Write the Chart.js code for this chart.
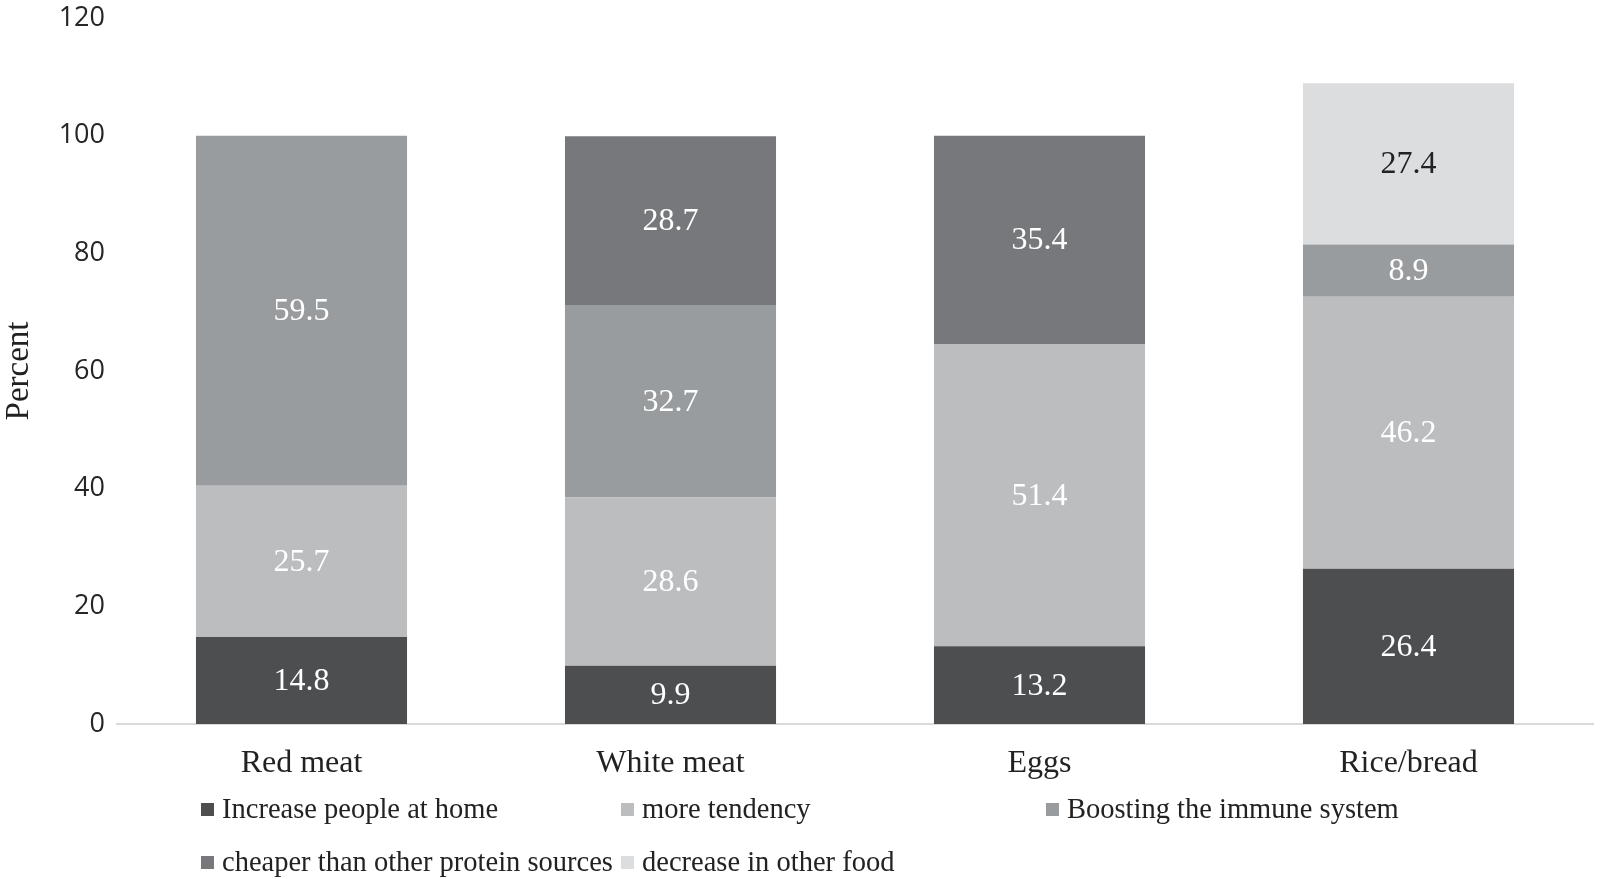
<!DOCTYPE html>
<html>
<head>
<meta charset="utf-8">
<script src="https://cdn.jsdelivr.net/npm/chart.js@4/dist/chart.umd.min.js"></script>
<style>
  html, body { margin: 0; padding: 0; background: #fff; }
  #wrap { position: relative; width: 1600px; height: 879px; overflow: hidden; }
  #c { position: absolute; left: 0; top: 0; }
  .lg { position: absolute; display: flex; align-items: center; font-family: "Liberation Serif", "Times New Roman", serif; font-size: 28.5px; color: #222; white-space: nowrap; line-height: 1; }
  .lg span.sw { display: inline-block; width: 13px; height: 13px; margin-right: 8px; }
</style>
</head>
<body>
<div id="wrap">
  <canvas id="c" width="1600" height="879"></canvas>
  <div id="legend"></div>
</div>
<script>
const categories = ["Red meat", "White meat", "Eggs", "Rice/bread"];
const seriesNames = ["Increase people at home", "more tendency", "Boosting the immune system", "cheaper than other protein sources", "decrease in other food"];
const increasePeople = [14.8, 9.9, 13.2, 26.4];
const moreTendency = [25.7, 28.6, 51.4, 46.2];
const boostingImmune = [59.5, 32.7, null, 8.9];
const cheaperProtein = [null, 28.7, 35.4, null];
const decreaseOther = [null, null, null, 27.4];
const yTicks = [0, 20, 40, 60, 80, 100, 120];

const colors = ["#4d4e50", "#bcbdbf", "#999c9f", "#77787b", "#dcdddf"];
const labelColors = ["#ffffff", "#ffffff", "#ffffff", "#ffffff", "#222222"];
const values = [increasePeople, moreTendency, boostingImmune, cheaperProtein, decreaseOther];

const datasets = seriesNames.map((n, i) => ({
  label: n,
  data: values[i],
  backgroundColor: colors[i],
  borderWidth: 0,
  barPercentage: 0.572,
  categoryPercentage: 1.0
}));

const barLabels = {
  id: 'barLabels',
  afterDatasetsDraw(chart) {
    const ctx = chart.ctx;
    ctx.save();
    ctx.font = '32px "Liberation Serif", "Times New Roman", serif';
    ctx.textAlign = 'center';
    ctx.textBaseline = 'middle';
    chart.data.datasets.forEach((ds, di) => {
      const meta = chart.getDatasetMeta(di);
      meta.data.forEach((el, i) => {
        const v = ds.data[i];
        if (v === null || v === undefined) return;
        ctx.fillStyle = labelColors[di];
        ctx.fillText(v.toFixed(1), el.x, (el.y + el.base) / 2 + 1);
      });
    });
    ctx.restore();
  }
};

new Chart(document.getElementById('c'), {
  type: 'bar',
  data: { labels: categories, datasets },
  options: {
    responsive: false,
    animation: false,
    events: [],
    layout: { padding: { top: 18, right: 7, left: 0, bottom: 95 } },
    plugins: { legend: { display: false }, tooltip: { enabled: false } },
    scales: {
      x: {
        stacked: true,
        grid: { display: false, drawTicks: false },
        border: { display: true, color: '#d9d9d9', width: 2 },
        ticks: { font: { family: '"Liberation Serif", "Times New Roman", serif', size: 32 }, color: '#222', padding: 20 },
        afterFit(s) { s.height = 60; s.paddingLeft = 0; s.paddingRight = 0; }
      },
      y: {
        stacked: true,
        min: 0, max: 120,
        afterBuildTicks(s) { s.ticks = yTicks.map(v => ({ value: v })); },
        grid: { display: false, drawTicks: false },
        border: { display: false },
        ticks: { font: { family: '"Open Sans", "Liberation Sans", sans-serif', size: 27 }, color: '#262626', padding: 12 },
        title: { display: true, text: 'Percent', font: { family: '"Liberation Serif", "Times New Roman", serif', size: 33 }, color: '#222', padding: 0 },
        afterFit(s) { s.width = 117; s.paddingTop = 0; s.paddingBottom = 0; }
      }
    }
  },
  plugins: [barLabels]
});

// HTML legend built from the datasets
const legendPos = [[201, 809], [621, 809], [1046, 809], [201, 862], [621, 862]];
const lg = document.getElementById('legend');
seriesNames.forEach((n, i) => {
  const d = document.createElement('div');
  d.className = 'lg';
  d.style.left = legendPos[i][0] + 'px';
  d.style.top = (legendPos[i][1] - 15) + 'px';
  d.style.height = '30px';
  const sw = document.createElement('span');
  sw.className = 'sw';
  sw.style.background = colors[i];
  d.appendChild(sw);
  d.appendChild(document.createTextNode(n));
  lg.appendChild(d);
});
</script>
</body>
</html>
